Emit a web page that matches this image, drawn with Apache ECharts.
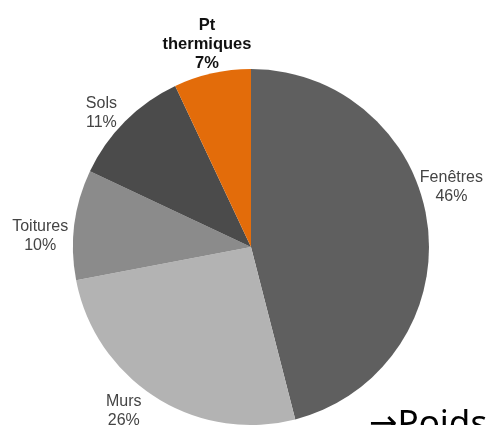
<!DOCTYPE html>
<html>
<head>
<meta charset="utf-8">
<script src="https://cdn.jsdelivr.net/npm/echarts@6/dist/echarts.min.js"></script>
<style>
html, body { margin: 0; padding: 0; background: #fff; }
#main { width: 487px; height: 425px; }
</style>
</head>
<body>
<div id="main"></div>
<script>
var categories = ['Fenêtres', 'Murs', 'Toitures', 'Sols', 'Pt\nthermiques'];
var values = [46, 26, 10, 11, 7];
var colors = ['#5f5f5f', '#b3b3b3', '#8b8b8b', '#4b4b4b', '#e36c0a'];
// small label nudges (px) to mimic the original best-fit placement
var labelNudge = [[0, -35], [-19, 6], [-11, 19], [-7, 9], [0, -5]];

var myChart = echarts.init(document.getElementById('main'));

var data = categories.map(function (c, i) {
    var item = { name: c, value: values[i], itemStyle: { color: colors[i] } };
    if (i === 4) {
        item.label = { fontWeight: 'bold', color: '#111', fontSize: 16.5 };
    }
    return item;
});

var option = {
    backgroundColor: '#fff',
    animation: false,
    series: [{
        type: 'pie',
        center: [251, 247],
        radius: 178,
        startAngle: 90,
        clockwise: true,
        data: data,
        itemStyle: { borderWidth: 0 },
        label: {
            show: true,
            position: 'outside',
            formatter: '{b}\n{d}%',
            fontFamily: 'Liberation Sans, Arial, sans-serif',
            fontSize: 16,
            lineHeight: 19,
            color: '#444',
            overflow: 'none',
            distanceToLabelLine: 0
        },
        labelLine: { show: false, length: 24, length2: 0 },
        labelLayout: function (params) {
            var n = labelNudge[params.dataIndex];
            return { align: 'center', verticalAlign: 'middle', dx: n[0], dy: n[1] };
        }
    }],
    graphic: [{
        type: 'text',
        left: 369,
        top: 408,
        style: {
            text: '{a|→}{b|Poids}',
            rich: {
                a: { font: '34px "DejaVu Sans", sans-serif', fill: '#000' },
                b: { font: '35px "Noto Sans", sans-serif', fill: '#000' }
            }
        }
    }]
};
myChart.setOption(option);
</script>
</body>
</html>
